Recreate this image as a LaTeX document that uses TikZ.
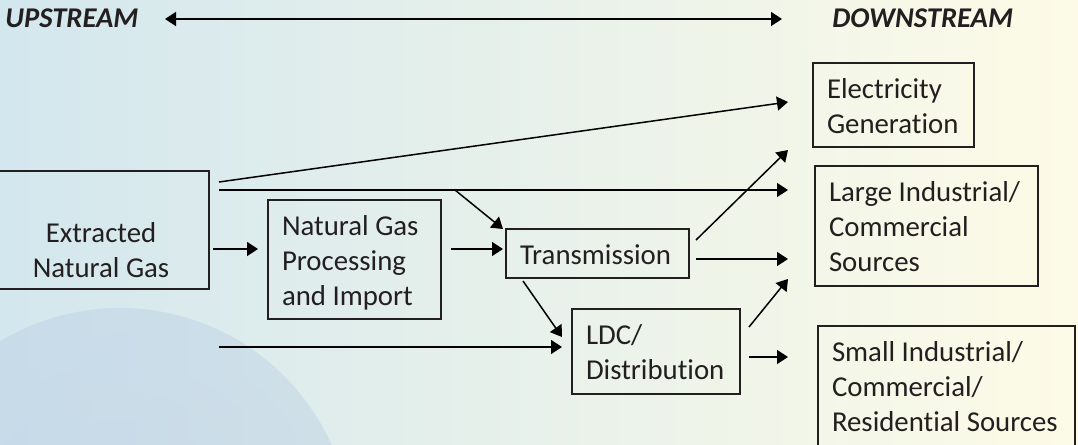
\documentclass[tikz,border=0pt]{standalone}
\usepackage{fontspec}
\setmainfont{Carlito}[Ligatures=NoCommon]
\usetikzlibrary{arrows.meta,calc}
\definecolor{ink}{HTML}{231F20}
\definecolor{bgL}{HTML}{D3E7EE}
\definecolor{bgM}{HTML}{ECF4E9}
\definecolor{bgR}{HTML}{FDFBE7}
\definecolor{globe}{HTML}{9DB3DA}
\newcommand{\blk}[2]{\raisebox{-1.75pt}[\height][\depth]{\makebox[#1][l]{\begin{tabular}{@{}l@{}}#2\end{tabular}}}}
\tikzset{
  box/.style={draw=ink, line width=0.9pt, inner xsep=7pt, inner ysep=0pt, text=ink},
  txt/.style={text=ink, inner sep=0pt},
  head/.style={text=ink, inner sep=0pt, font=\fontsize{14.3}{17.5}\selectfont\bfseries\itshape},
  arr/.style={-{Triangle[length=5.5pt,width=7pt]}, line width=0.75pt, draw=black},
  dbl/.style={{Triangle[length=5.5pt,width=7pt]}-{Triangle[length=5.5pt,width=7pt]}, line width=0.75pt, draw=black}
}
\begin{document}
\begin{tikzpicture}[x=0.5pt,y=-0.5pt,font=\fontsize{14.4}{17.5}\selectfont]
\useasboundingbox (0,0) rectangle (1078,445);
\begin{scope}
  \clip (0,0) rectangle (1078,445);
  \shade[left color=bgL, middle color=bgM, right color=bgR] (0,0) rectangle (1078,445);
  \shade[inner color=globe!80, outer color=globe!55!bgL, opacity=0.38] (120,540) circle [radius=116pt];
\end{scope}

% headers
\node[head, anchor=base west] (up) at (5,27) {UPSTREAM};
\node[head, anchor=base west] (down) at (832,27) {DOWNSTREAM};

% boxes
\node[box, minimum width=107pt, minimum height=59pt] (ext) at (102,230) {};
\node[txt, align=center] (extt) at (101,250) {Extracted\\Natural Gas};
\node[box, minimum height=59.5pt] (proc) at (354.5,259.5) {\blk{72.5pt}{Natural Gas\\Processing\\and Import}};
\node[box, minimum height=24.5pt] (trans) at (597.5,253.5) {\blk{77.5pt}{Transmission}};
\node[box, minimum height=42.5pt] (ldc) at (656,351.5) {\blk{70pt}{LDC/\\Distribution}};
\node[box, minimum height=42pt] (elec) at (893.5,105) {\blk{66.5pt}{Electricity\\Generation}};
\node[box, minimum height=60pt] (large) at (926.5,226) {\blk{97.5pt}{Large Industrial/\\Commercial\\Sources}};
\node[box, minimum height=60pt] (small) at (946.5,386) {\blk{114.5pt}{Small Industrial/\\Commercial/\\Residential Sources}};

% connector end points
\coordinate (t1) at (165,19);
\coordinate (t2) at (782,19);
\coordinate (a1) at (213,249);
\coordinate (a2) at (258,249);
\coordinate (b1) at (451,249);
\coordinate (b2) at (503,249);
\coordinate (c1) at (219,182);
\coordinate (c2) at (788,102);
\coordinate (d1) at (219,190);
\coordinate (d2) at (788,190);
\coordinate (br) at (455,190);
\coordinate (br2) at (503,229);
\coordinate (f1) at (219,347);
\coordinate (f2) at (562,347);
\coordinate (g1) at (523,281);
\coordinate (g2) at (562,337);
\coordinate (h1) at (696,259);
\coordinate (h2) at (788,259);
\coordinate (i1) at (696,240);
\coordinate (i2) at (788,150);
\coordinate (j1) at (749,327);
\coordinate (j2) at (788,279);
\coordinate (k1) at (749,357);
\coordinate (k2) at (788,357);

\draw[dbl] (t1) -- (t2);
\draw[arr] (a1) -- (a2);
\draw[arr] (b1) -- (b2);
\draw[arr] (c1) -- (c2);
\draw[arr] (d1) -- (d2);
\draw[arr] (br) -- (br2);
\draw[arr] (f1) -- (f2);
\draw[arr] (g1) -- (g2);
\draw[arr] (h1) -- (h2);
\draw[arr] (i1) -- (i2);
\draw[arr] (j1) -- (j2);
\draw[arr] (k1) -- (k2);
\end{tikzpicture}
\end{document}
